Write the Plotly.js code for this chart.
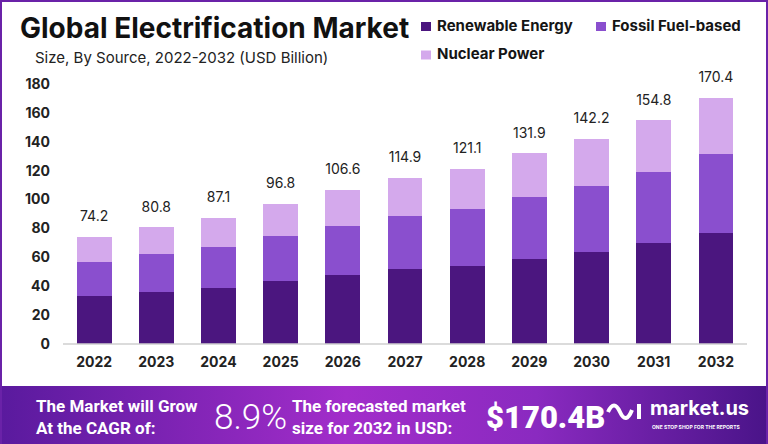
<!DOCTYPE html>
<html>
<head>
<meta charset="utf-8">
<script src="https://cdn.plot.ly/plotly-3.0.1.min.js"></script>
<style>
  html, body { margin: 0; padding: 0; background: #fff; }
  #graph {
    width: 768px; height: 444px; box-sizing: border-box;
    border: 2px solid #6a22a8; border-bottom: none;
    background:
      linear-gradient(to bottom, #fff 0, #fff 384px, transparent 384px),
      linear-gradient(90deg, #5a1a9e 0%, #a22dca 45%, #8a2ac0 70%, #4a1489 100%);
  }
</style>
</head>
<body>
<div id="graph"></div>
<script>
// values (USD billion)
const years = ['2022', '2023', '2024', '2025', '2026', '2027', '2028', '2029', '2030', '2031', '2032'];
const renewable = [33.2, 36.2, 39.0, 43.6, 47.8, 51.7, 54.2, 58.9, 63.9, 69.7, 76.6];
const fossil = [23.6, 26.1, 28.2, 31.0, 33.9, 36.9, 39.3, 42.7, 45.5, 49.4, 54.7];
const nuclear = [17.4, 18.5, 19.9, 22.2, 24.9, 26.3, 27.6, 30.3, 32.8, 35.7, 39.1];
const totals = [74.2, 80.8, 87.1, 96.8, 106.6, 114.9, 121.1, 131.9, 142.2, 154.8, 170.4];
const totalLabels = ['74.2', '80.8', '87.1', '96.8', '106.6', '114.9', '121.1', '131.9', '142.2', '154.8', '170.4'];
const yTicks = [0, 20, 40, 60, 80, 100, 120, 140, 160, 180];
const seriesNames = ['Renewable Energy', 'Fossil Fuel-based', 'Nuclear Power'];
const seriesColors = ['#4b167f', '#8a4fce', '#d4a9ec'];

// figure size and margins in px (graph div is 764x442 inside the border)
const W = 764, H = 442;
const M = { l: 61, r: 19, t: 82, b: 100 };
// page pixel -> paper helpers, for legend and banner bits
const px = p => (p - 2 - M.l) / (W - M.l - M.r);
const py = p => (H - M.b - (p - 2)) / (H - M.t - M.b);

const FONT = 'Inter, "Open Sans", sans-serif';

function barTrace(i, vals) {
    return {
        type: 'bar',
        name: seriesNames[i],
        x: years,
        y: vals,
        marker: { color: seriesColors[i] },
        showlegend: false,
        hoverinfo: 'skip'
    };
}

const traces = [
    barTrace(0, renewable),
    barTrace(1, fossil),
    barTrace(2, nuclear),
    {
        // totals above the stacks; the invisible markers just lift the text a bit
        type: 'scatter',
        mode: 'text+markers',
        x: years,
        y: totals,
        text: totalLabels,
        textposition: 'top center',
        marker: { size: 18, color: 'rgba(0,0,0,0)' },
        textfont: { family: FONT, size: 14, color: '#222' },
        showlegend: false,
        cliponaxis: false,
        hoverinfo: 'skip'
    }
];

const white = '#ffffff';
const annotations = [
    {
        text: 'Size, By Source, 2022-2032 (USD Billion)',
        xref: 'paper', yref: 'paper', x: px(33), y: py(58),
        xanchor: 'left', yanchor: 'middle', showarrow: false,
        font: { family: FONT, size: 15, color: '#222' }
    },
    {
        text: '<b>The Market will Grow<br>At the CAGR of:</b>',
        xref: 'paper', yref: 'paper', x: px(34), y: py(417),
        xanchor: 'left', yanchor: 'middle', align: 'left', showarrow: false,
        font: { family: 'Roboto, sans-serif', size: 17, color: white }
    },
    {
        text: '8.9%',
        xref: 'paper', yref: 'paper', x: px(212), y: py(418),
        xanchor: 'left', yanchor: 'middle', showarrow: false,
        font: { family: 'Roboto, sans-serif', size: 35, weight: 300, color: white }
    },
    {
        text: '<b>The forecasted market<br>size for 2032 in USD:</b>',
        xref: 'paper', yref: 'paper', x: px(290), y: py(417),
        xanchor: 'left', yanchor: 'middle', align: 'left', showarrow: false,
        font: { family: 'Roboto, sans-serif', size: 17, color: white }
    },
    {
        text: '$170.4B',
        xref: 'paper', yref: 'paper', x: px(484), y: py(418),
        xanchor: 'left', yanchor: 'middle', showarrow: false,
        font: { family: 'Roboto, sans-serif', size: 31, weight: 900, color: white }
    },
    {
        text: '<b>market.us</b>',
        xref: 'paper', yref: 'paper', x: px(648), y: py(408),
        xanchor: 'left', yanchor: 'middle', showarrow: false,
        font: { family: FONT, size: 20, color: white }
    },
    {
        text: '<b>ONE STOP SHOP FOR THE REPORTS</b>',
        xref: 'paper', yref: 'paper', x: px(650), y: py(426.5),
        xanchor: 'left', yanchor: 'middle', showarrow: false,
        font: { family: FONT, size: 5, color: white }
    }
];

const shapes = [
    {
        type: 'line', xref: 'paper', yref: 'paper',
        x0: 0, x1: 1, y0: 0, y1: 0,
        line: { color: '#cfcfcf', width: 1.5 }
    }
];

// legend laid out like the reference: two entries on the first row, one below
const legendSpots = [[421, 26.5], [596, 26.5], [421, 55]];
seriesNames.forEach((name, i) => {
    const [lx, ly] = legendSpots[i];
    shapes.push({
        type: 'rect', xref: 'paper', yref: 'paper',
        x0: px(lx), x1: px(lx + 10), y0: py(ly - 4.5), y1: py(ly + 4.5),
        fillcolor: seriesColors[i], line: { width: 0 }
    });
    annotations.push({
        text: '<b>' + name + '</b>',
        xref: 'paper', yref: 'paper', x: px(lx + 14), y: py(ly - 1),
        xanchor: 'left', yanchor: 'middle', showarrow: false,
        font: { family: FONT, size: 15, color: '#151515' }
    });
});

// small wave logo next to market.us
const logoPath = 'M' + px(608) + ',' + py(412) +
    ' Q' + px(614) + ',' + py(399) + ' ' + px(620) + ',' + py(412) +
    ' Q' + px(626) + ',' + py(425) + ' ' + px(632) + ',' + py(410);
shapes.push(
    {
        type: 'path', xref: 'paper', yref: 'paper', path: logoPath,
        line: { color: white, width: 4 }
    },
    {
        type: 'line', xref: 'paper', yref: 'paper',
        x0: px(639), x1: px(639), y0: py(404), y1: py(419),
        line: { color: white, width: 4 }
    }
);

const layout = {
    width: W,
    height: H,
    margin: M,
    paper_bgcolor: 'rgba(0,0,0,0)',
    plot_bgcolor: 'rgba(0,0,0,0)',
    barmode: 'stack',
    bargap: 0.44,
    showlegend: false,
    font: { family: FONT, color: '#222' },
    title: {
        text: '<b>Global Electrification Market</b>',
        xref: 'container', yref: 'container',
        x: 18 / W, y: 1 - 26 / H, xanchor: 'left', yanchor: 'middle',
        font: { family: FONT, size: 28, color: '#111' }
    },
    xaxis: {
        type: 'category',
        range: [-0.5, 10.5],
        showgrid: false,
        showline: false,
        zeroline: false,
        ticks: '',
        ticklabelstandoff: 8,
        tickfont: { family: FONT, size: 14, weight: 700, color: '#222' }
    },
    yaxis: {
        range: [0, 180],
        tickvals: yTicks,
        showgrid: false,
        zeroline: false,
        showline: false,
        ticks: '',
        ticklabelstandoff: 12,
        tickfont: { family: FONT, size: 14, weight: 700, color: '#222' }
    },
    annotations: annotations,
    shapes: shapes
};

Plotly.newPlot('graph', traces, layout, { displayModeBar: false, staticPlot: true });
</script>
</body>
</html>
